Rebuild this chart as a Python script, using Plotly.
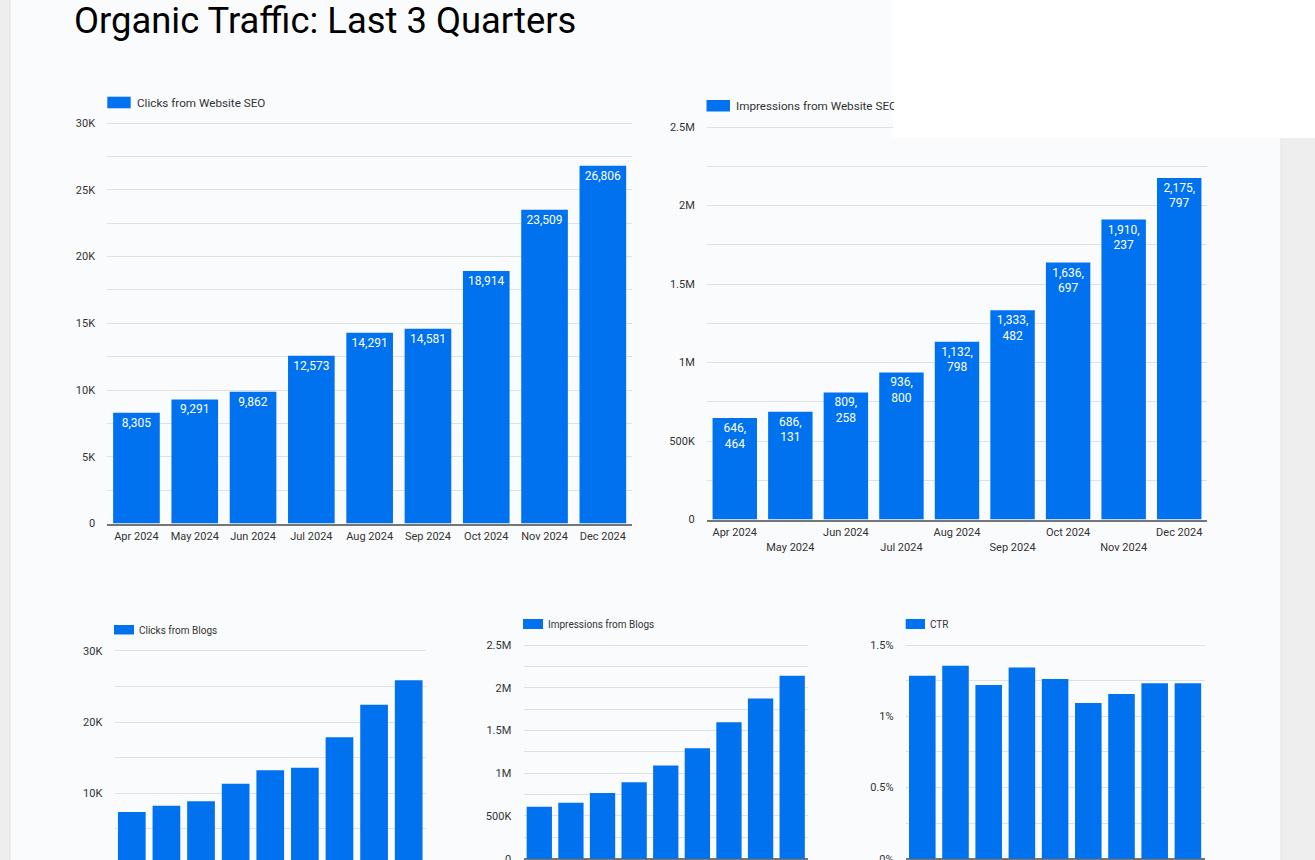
import plotly.graph_objects as go

# ---------------- data ----------------
months = ["Apr 2024", "May 2024", "Jun 2024", "Jul 2024", "Aug 2024",
          "Sep 2024", "Oct 2024", "Nov 2024", "Dec 2024"]

clicks_seo = [8305, 9291, 9862, 12573, 14291, 14581, 18914, 23509, 26806]
impressions_seo = [646464, 686131, 809258, 936800, 1132798, 1333482,
                   1636697, 1910237, 2175797]
clicks_blogs = [7380, 8260, 8880, 11350, 13220, 13590, 17850, 22430, 25850]
impressions_blogs = [609000, 656000, 769000, 895000, 1089000, 1293000,
                     1597000, 1874000, 2140000]
ctr = [1.285, 1.354, 1.219, 1.342, 1.262, 1.093, 1.156, 1.231, 1.232]

title_text = "Organic Traffic: Last 3 Quarters"

W, H = 1315, 860
BLUE = "#0072f0"
GRID = "#e0e0e0"
AXIS = "#757575"
TXT = "#333333"
FONT = "Roboto"
HEAD = 3  # px of headroom above the top gridline so it is drawn


def fx(p):
    return p / W


def fy(p):
    return 1 - p / H


def seo_imp_label(v):
    s = f"{v:,}"
    i = s.rfind(",")
    return s[: i + 1] + "<br>" + s[i + 1:]


def yrange(top_px, top_val, zero_px, bottom_px):
    per_px = top_val / (zero_px - top_px)
    lo = -(bottom_px - zero_px) * per_px
    hi = top_val + HEAD * per_px
    return [lo, hi], [fy(bottom_px), fy(top_px - HEAD)]


fig = go.Figure()

fig.add_trace(go.Bar(
    x=months, y=clicks_seo, xaxis="x", yaxis="y",
    marker=dict(color=BLUE, line=dict(width=0)),
    text=[f"{v:,}" for v in clicks_seo], textposition="inside",
    insidetextanchor="end", constraintext="none",
    textfont=dict(color="white", size=12, family=FONT),
))
fig.add_trace(go.Bar(
    x=months, y=impressions_seo, xaxis="x2", yaxis="y2",
    marker=dict(color=BLUE, line=dict(width=0)),
    text=[seo_imp_label(v) for v in impressions_seo], textposition="inside",
    insidetextanchor="end", constraintext="none",
    textfont=dict(color="white", size=12, family=FONT),
))
fig.add_trace(go.Bar(x=months, y=clicks_blogs, xaxis="x3", yaxis="y3",
                     marker=dict(color=BLUE, line=dict(width=0))))
fig.add_trace(go.Bar(x=months, y=impressions_blogs, xaxis="x4", yaxis="y4",
                     marker=dict(color=BLUE, line=dict(width=0))))
fig.add_trace(go.Bar(x=months, y=ctr, xaxis="x5", yaxis="y5",
                     marker=dict(color=BLUE, line=dict(width=0))))

tickfont = dict(family=FONT, size=11, color=TXT)


def yax(anchor, domain, rng, vals, labels, zeroline=False):
    return dict(
        anchor=anchor, domain=domain, range=rng, tickvals=vals, ticktext=labels,
        showgrid=True, gridcolor=GRID, gridwidth=1,
        zeroline=zeroline, zerolinecolor=AXIS, zerolinewidth=2,
        showline=False, ticks="outside", ticklen=9,
        tickcolor="rgba(0,0,0,0)", tickfont=tickfont, fixedrange=True,
        automargin=False, ticklabeloverflow="allow",
    )


def xax(domain, anchor, showline, showlabels, ticktext=None):
    d = dict(
        domain=domain, anchor=anchor, showgrid=False, zeroline=False,
        showline=showline, linecolor=AXIS, linewidth=2,
        ticks="outside", ticklen=1.5, tickcolor="rgba(0,0,0,0)",
        showticklabels=showlabels, tickfont=tickfont, fixedrange=True,
        type="category", automargin=False,
    )
    if ticktext is not None:
        d["tickmode"] = "array"
        d["tickvals"] = months
        d["ticktext"] = ticktext
    return d


t1_vals = [i * 2500 for i in range(13)]
t1_text = [("0" if v == 0 else f"{v // 1000}K") if v % 5000 == 0 else "" for v in t1_vals]

t2_vals = [i * 250000 for i in range(11)]


def m_label(v):
    if v == 0:
        return "0"
    if v < 1_000_000:
        return f"{v // 1000}K"
    return f"{v / 1_000_000:g}M"


t2_text = [m_label(v) if v % 500000 == 0 else "" for v in t2_vals]

t3_vals = [i * 5000 for i in range(7)]
t3_text = [("0" if v == 0 else f"{v // 1000}K") if v % 10000 == 0 else "" for v in t3_vals]

t5_vals = [i * 0.25 for i in range(7)]
t5_text = [f"{v:g}%" if abs(v * 2 - round(v * 2)) < 1e-9 else "" for v in t5_vals]

x2_text = [m if i % 2 == 0 else " <br>" + m for i, m in enumerate(months)]

r1, d1 = yrange(123, 30000, 523.5, 523.5)
r2, d2 = yrange(127, 2500000, 519.5, 519.5)
r3, d3 = yrange(650.7, 30000, 864.6, 860)
r4, d4 = yrange(645, 2500000, 858.7, 860)
r5, d5 = yrange(645, 1.5, 858.7, 860)

fig.update_layout(
    width=W, height=H,
    margin=dict(l=0, r=0, t=0, b=0, pad=0, autoexpand=False),
    paper_bgcolor="#fafbfd", plot_bgcolor="rgba(0,0,0,0)",
    showlegend=False, bargap=0.2,
    font=dict(family=FONT, color=TXT),
    xaxis=xax([fx(107.3), fx(632)], "y", True, True),
    yaxis=yax("x", d1, r1, t1_vals, t1_text),
    xaxis2=xax([fx(707), fx(1207)], "y2", True, True, x2_text),
    yaxis2=yax("x2", d2, r2, t2_vals, t2_text),
    xaxis3=xax([fx(114.5), fx(426)], "y3", False, False),
    yaxis3=yax("x3", d3, r3, t3_vals, t3_text),
    xaxis4=xax([fx(523.5), fx(808)], "y4", False, False),
    yaxis4=yax("x4", d4, r4, t2_vals, t2_text, zeroline=True),
    xaxis5=xax([fx(905.7), fx(1204.5)], "y5", False, False),
    yaxis5=yax("x5", d5, r5, t5_vals, t5_text, zeroline=True),
)

shapes = [
    dict(type="rect", xref="paper", yref="paper", x0=0, x1=fx(10), y0=0, y1=1,
         fillcolor="#eeeeee", line=dict(width=0), layer="below"),
    dict(type="line", xref="paper", yref="paper", x0=fx(10), x1=fx(10), y0=0, y1=1,
         line=dict(color="#e2e2e2", width=1), layer="below"),
    dict(type="rect", xref="paper", yref="paper", x0=fx(1281), x1=1, y0=0, y1=fy(137.7),
         fillcolor="#eeeeee", line=dict(width=0), layer="below"),
    dict(type="line", xref="paper", yref="paper", x0=fx(1281), x1=fx(1281), y0=0, y1=fy(137.7),
         line=dict(color="#e2e2e2", width=1), layer="below"),
    dict(type="rect", xref="paper", yref="paper", x0=fx(893), x1=1, y0=fy(137.7), y1=1,
         fillcolor="#ffffff", line=dict(width=0), layer="above"),
]

legend_items = [
    (107.3, 130.7, 96.7, 108.3, 136, 102.7, "Clicks from Website SEO", 11.7, None),
    (706.5, 730.0, 100.0, 111.5, 735, 106.0, "Impressions from Website SEO", 11.7, 158),
    (114.0, 134.0, 625.0, 634.5, 138, 630.0, "Clicks from Blogs", 10, None),
    (523.0, 543.0, 619.0, 629.0, 547, 624.5, "Impressions from Blogs", 10, None),
    (905.7, 925.0, 619.0, 629.0, 929, 624.5, "CTR", 10, None),
]
annotations = [
    dict(text=title_text, xref="paper", yref="paper", x=fx(73), y=fy(20),
         xanchor="left", yanchor="middle", showarrow=False, borderpad=0,
         font=dict(family=FONT, size=36.4, color="#000000")),
]
for x0, x1, y0, y1, tx, ty, txt, sz, wd in legend_items:
    shapes.append(dict(type="rect", xref="paper", yref="paper",
                       x0=fx(x0), x1=fx(x1), y0=fy(y1), y1=fy(y0),
                       fillcolor=BLUE, line=dict(width=0), layer="above"))
    a = dict(text=txt, xref="paper", yref="paper", x=fx(tx), y=fy(ty),
             xanchor="left", yanchor="middle", showarrow=False, borderpad=0,
             align="left", font=dict(family=FONT, size=sz, color=TXT))
    if wd:
        a["width"] = wd
    annotations.append(a)

fig.update_layout(shapes=shapes, annotations=annotations)

fig.write_html("out.html", config={"displayModeBar": False})
